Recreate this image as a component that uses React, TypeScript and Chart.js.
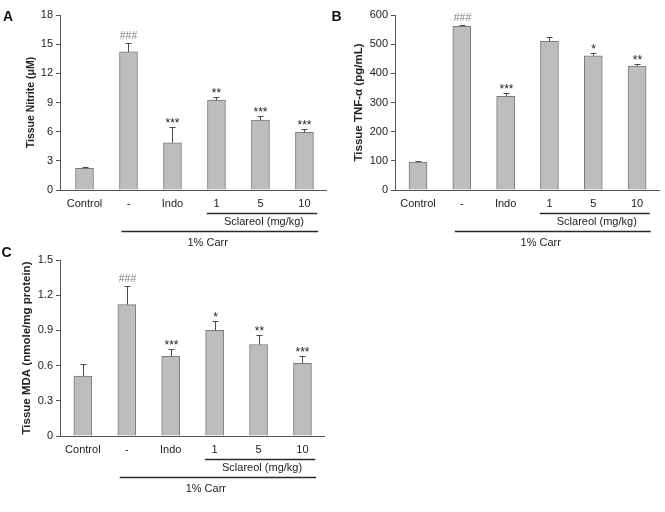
import React, { useEffect, useRef } from 'react';
import { Chart, registerables } from 'chart.js';

Chart.register(...registerables);
Chart.defaults.font.family = '"Liberation Sans", Arial, sans-serif';

// ---------- data ----------
const categories = ['Control', '-', 'Indo', '1', '5', '10'];

const nitriteMeans = [2.22, 14.2, 4.86, 9.24, 7.19, 5.92];
const nitriteSem = [0.1, 0.95, 1.57, 0.35, 0.44, 0.31];
const nitriteMarks = ['', '###', '***', '**', '***', '***'];
const nitriteTicks = [0, 3, 6, 9, 12, 15, 18];

const tnfMeans = [96, 561, 321, 510, 460, 425];
const tnfSem = [3, 6, 12, 16, 10, 8];
const tnfMarks = ['', '###', '***', '', '*', '**'];
const tnfTicks = [0, 100, 200, 300, 400, 500, 600];

const mdaMeans = [0.51, 1.12, 0.68, 0.9, 0.78, 0.62];
const mdaSem = [0.1, 0.155, 0.065, 0.08, 0.08, 0.065];
const mdaMarks = ['', '###', '***', '*', '**', '***'];
const mdaTicks = [0, 0.3, 0.6, 0.9, 1.2, 1.5];

const groupLabels = ['Sclareol (mg/kg)', '1% Carr'];

// ---------- layout ----------
const W = 665;
const H = 512;
const Y_AXIS_W = 60;
const X_AXIS_H = 20;

type Panel = {
  letter: string;
  title: string;
  titleSize: number;
  means: number[];
  sem: number[];
  marks: string[];
  ticks: number[];
  area: { left: number; right: number; top: number; bottom: number };
  xMin: number;
  xMax: number;
  letterPos: [number, number];
  titlePad: number;
};

const panels: Panel[] = [
  {
    letter: 'A', title: 'Tissue Nitrite (μM)', titleSize: 10.5,
    means: nitriteMeans, sem: nitriteSem, marks: nitriteMarks, ticks: nitriteTicks,
    area: { left: 60, right: 326, top: 15, bottom: 190 },
    xMin: -0.557, xMax: 5.49, letterPos: [3, 17], titlePad: 24.7,
  },
  {
    letter: 'B', title: 'Tissue TNF-α (pg/mL)', titleSize: 11.5,
    means: tnfMeans, sem: tnfSem, marks: tnfMarks, ticks: tnfTicks,
    area: { left: 395, right: 659, top: 15, bottom: 190 },
    xMin: -0.525, xMax: 5.5, letterPos: [331.5, 17], titlePad: 16.8,
  },
  {
    letter: 'C', title: 'Tissue MDA (nmole/mg protein)', titleSize: 11.5,
    means: mdaMeans, sem: mdaSem, marks: mdaMarks, ticks: mdaTicks,
    area: { left: 60, right: 324, top: 260, bottom: 436 },
    xMin: -0.52, xMax: 5.49, letterPos: [1.5, 253], titlePad: 20.3,
  },
];

// bracket geometry in category units / px below the axis
const sclLine = [2.78, 5.29];
const sclTextX = 4.08;
const carrLine = [0.84, 5.31];
const carrTextX = 2.8;

function panelPlugin(p: Panel) {
  return {
    id: 'panel' + p.letter,
    afterDatasetsDraw(chart: any) {
      const { ctx } = chart;
      const x = chart.scales.x;
      const y = chart.scales.y;
      ctx.save();
      ctx.strokeStyle = '#4a4a4a';
      ctx.lineWidth = 1;
      p.means.forEach((m, i) => {
        const px = Math.round(x.getPixelForValue(i)) + 0.5;
        const top = Math.round(y.getPixelForValue(m + p.sem[i])) + 0.5;
        const base = y.getPixelForValue(m);
        ctx.beginPath();
        ctx.moveTo(px, base);
        ctx.lineTo(px, top);
        ctx.moveTo(px - 3, top);
        ctx.lineTo(px + 3, top);
        ctx.stroke();
        const mark = p.marks[i];
        if (mark) {
          const isHash = mark[0] === '#';
          ctx.font = isHash ? '10.5px "Liberation Sans", Arial' : '12px "Liberation Sans", Arial';
          ctx.fillStyle = isHash ? '#808080' : '#222';
          ctx.textAlign = 'center';
          ctx.textBaseline = 'alphabetic';
          ctx.fillText(mark, px, isHash ? top - 4.5 : top - 1);
        }
      });
      ctx.restore();
    },
    afterDraw(chart: any) {
      const { ctx, chartArea } = chart;
      const x = chart.scales.x;
      const by = chartArea.bottom;
      ctx.save();
      ctx.strokeStyle = '#2a2a2a';
      ctx.lineWidth = 1.5;
      ctx.beginPath();
      ctx.moveTo(x.getPixelForValue(sclLine[0]), by + 23.5);
      ctx.lineTo(x.getPixelForValue(sclLine[1]), by + 23.5);
      ctx.moveTo(x.getPixelForValue(carrLine[0]), by + 41.5);
      ctx.lineTo(x.getPixelForValue(carrLine[1]), by + 41.5);
      ctx.stroke();
      ctx.fillStyle = '#222';
      ctx.font = '11px "Liberation Sans", Arial';
      ctx.textAlign = 'center';
      ctx.textBaseline = 'middle';
      ctx.fillText(groupLabels[0], x.getPixelForValue(sclTextX), by + 32);
      ctx.fillText(groupLabels[1], x.getPixelForValue(carrTextX), by + 53);
      ctx.font = 'bold 14px "Liberation Sans", Arial';
      ctx.textAlign = 'left';
      ctx.fillStyle = '#111';
      ctx.fillText(p.letter, p.letterPos[0], p.letterPos[1]);
      ctx.restore();
    },
  };
}

function buildConfig(p: Panel): any {
  return {
    type: 'bar',
    data: {
      datasets: [
        {
          data: p.means.map((v, i) => ({ x: i, y: v })),
          backgroundColor: '#bdbdbd',
          borderColor: '#7a7a7a',
          borderWidth: 1,
          barThickness: 18,
        },
      ],
    },
    options: {
      responsive: false,
      animation: false,
      events: [],
      layout: {
        padding: {
          left: p.area.left - Y_AXIS_W,
          top: p.area.top,
          right: W - p.area.right,
          bottom: H - p.area.bottom - X_AXIS_H,
        },
      },
      plugins: { legend: { display: false }, tooltip: { enabled: false } },
      scales: {
        x: {
          type: 'linear',
          offset: false,
          min: p.xMin,
          max: p.xMax,
          afterBuildTicks: (s: any) => {
            s.ticks = categories.map((_, i) => ({ value: i }));
          },
          afterFit: (s: any) => {
            s.height = X_AXIS_H;
          },
          grid: { display: false, drawTicks: false },
          border: { display: true, color: '#555', width: 1 },
          ticks: {
            autoSkip: false,
            maxRotation: 0,
            padding: 7,
            color: '#222',
            font: { size: 11 },
            callback: (v: number) => categories[v] ?? '',
          },
        },
        y: {
          min: 0,
          max: p.ticks[p.ticks.length - 1],
          afterBuildTicks: (s: any) => {
            s.ticks = p.ticks.map((v) => ({ value: v }));
          },
          afterFit: (s: any) => {
            s.width = Y_AXIS_W;
          },
          grid: { drawOnChartArea: false, drawTicks: true, tickLength: 4, color: '#555' },
          border: { display: true, color: '#555', width: 1 },
          ticks: { padding: 3, color: '#222', font: { size: 11 }, callback: (v: number) => String(v) },
          title: {
            display: true,
            text: p.title,
            color: '#222',
            font: { size: p.titleSize, weight: 'bold' },
            padding: { top: p.titlePad, bottom: 0 },
          },
        },
      },
    },
    plugins: [panelPlugin(p)],
  };
}

export default function App() {
  const r0 = useRef<HTMLCanvasElement>(null);
  const r1 = useRef<HTMLCanvasElement>(null);
  const r2 = useRef<HTMLCanvasElement>(null);
  const refs = [r0, r1, r2];

  useEffect(() => {
    const charts = panels.map((p, k) => new Chart(refs[k].current as HTMLCanvasElement, buildConfig(p)));
    return () => charts.forEach((c) => c.destroy());
  }, []);

  return (
    <div style={{ position: 'absolute', left: 0, top: 0, width: W, height: H, background: '#fff' }}>
      {panels.map((p, k) => (
        <canvas
          key={p.letter}
          ref={refs[k]}
          width={W}
          height={H}
          style={{ position: 'absolute', left: 0, top: 0, width: W, height: H, pointerEvents: 'none' }}
        />
      ))}
    </div>
  );
}
